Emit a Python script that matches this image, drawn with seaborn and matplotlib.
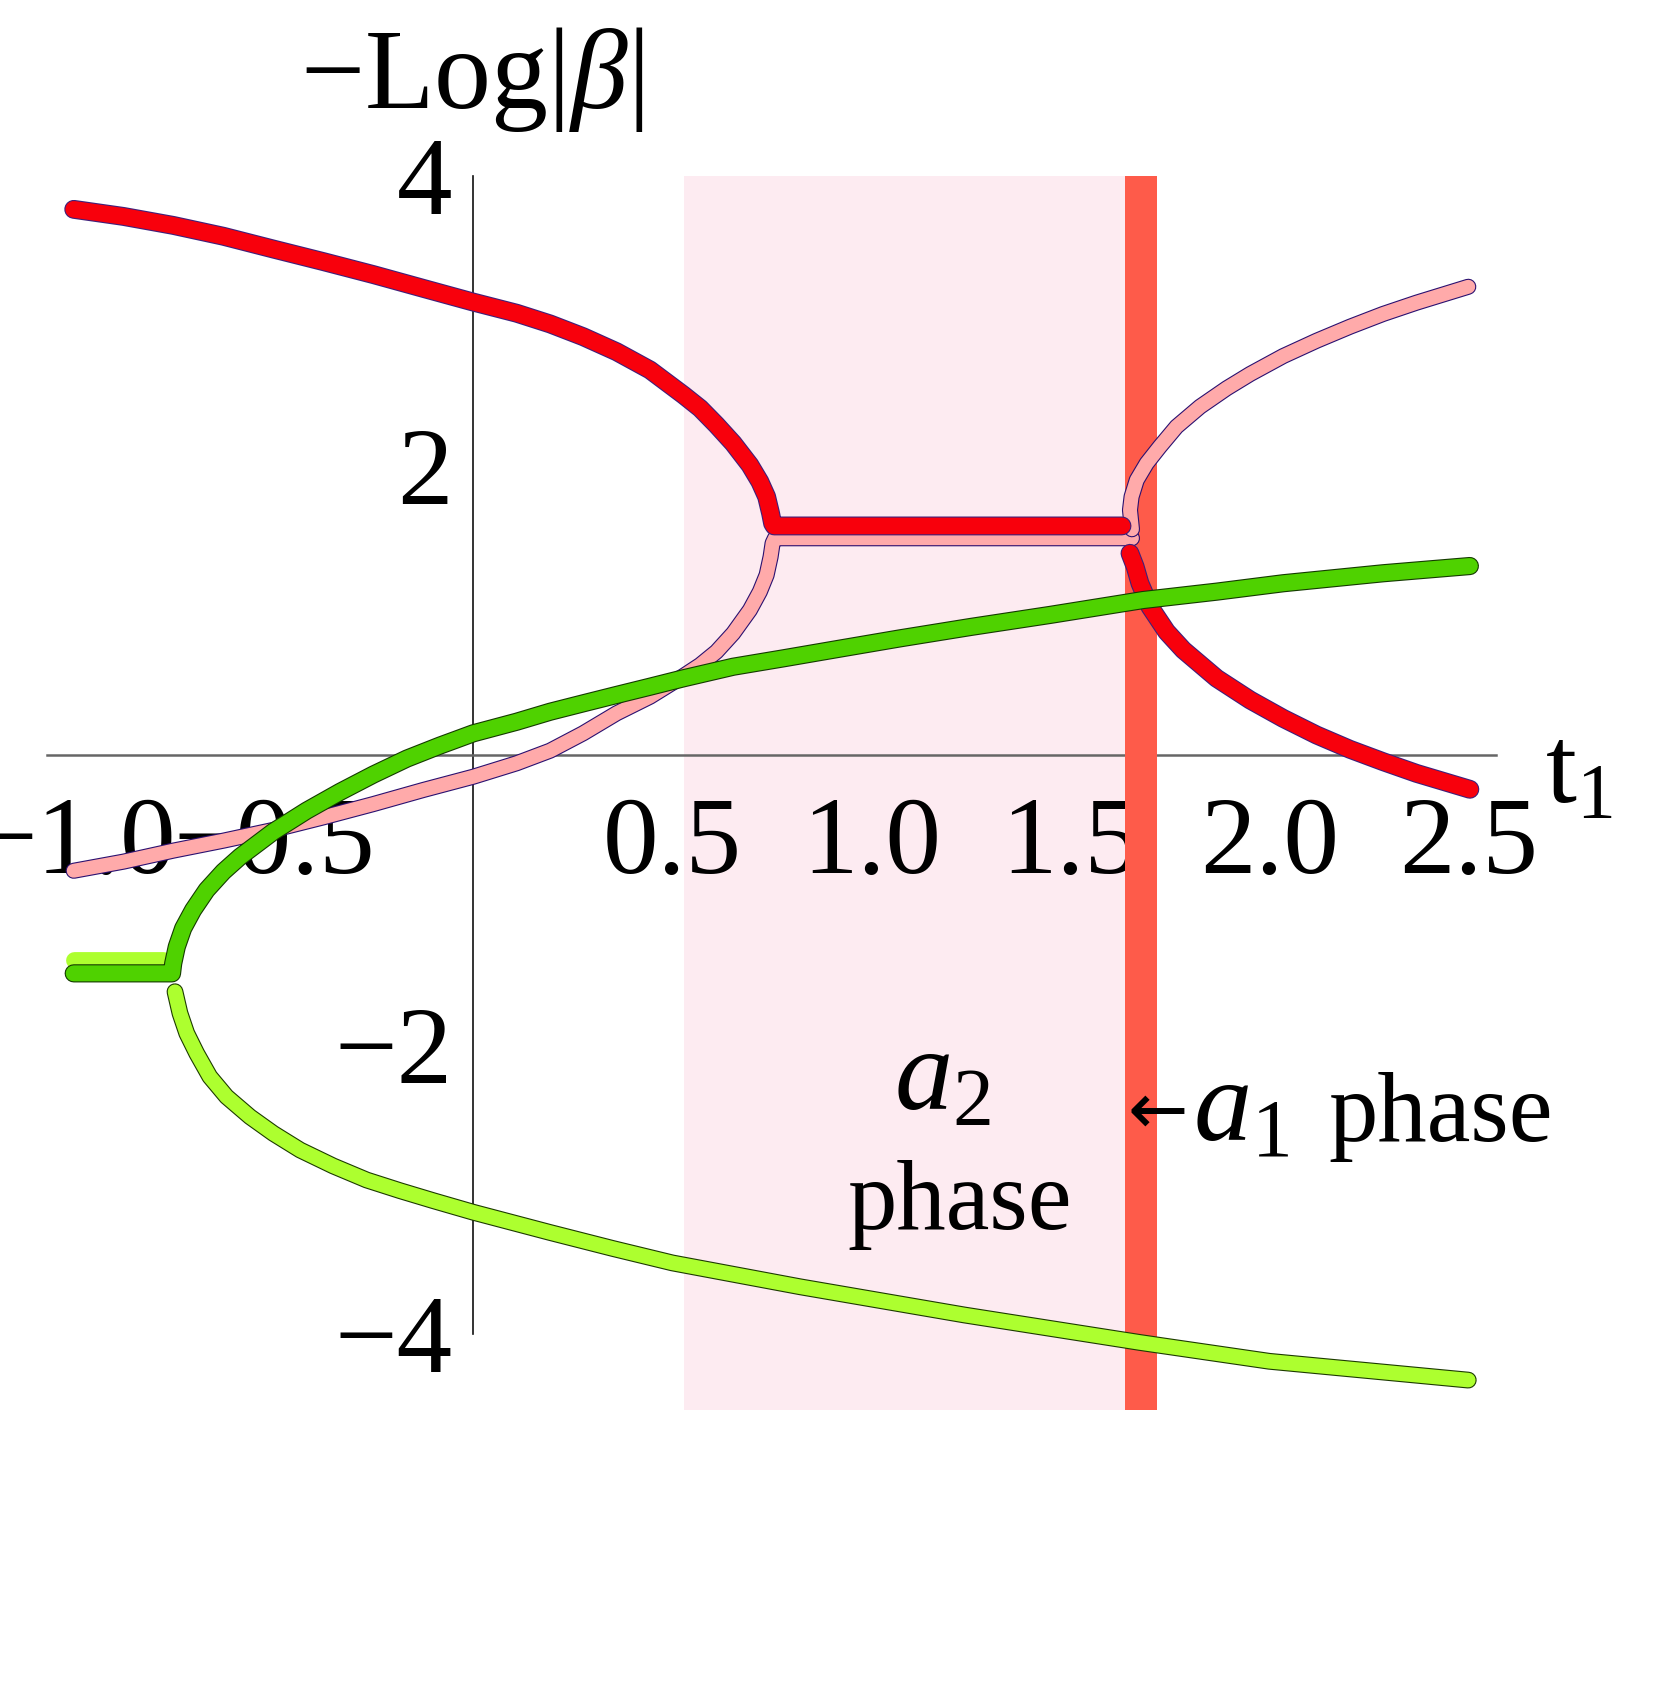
import matplotlib
matplotlib.use("Agg")
import matplotlib.pyplot as plt
import matplotlib.patheffects as pe
import seaborn as sns

# curve samples (t1, -Log|beta|)
red_top_t = [-1.004, -0.879, -0.754, -0.628, -0.503, -0.377, -0.251, -0.126, 0.0, 0.109, 0.193, 0.276,
             0.360, 0.444, 0.528, 0.570, 0.611, 0.653, 0.695, 0.720, 0.737, 0.747, 0.752, 0.756, 1.63]
red_top_v = [3.771, 3.722, 3.660, 3.585, 3.497, 3.410, 3.320, 3.225, 3.130, 3.053, 2.979, 2.891,
             2.787, 2.661, 2.488, 2.396, 2.281, 2.154, 2.004, 1.889, 1.785, 1.670, 1.601, 1.583, 1.583]

red_low_t = [1.650, 1.663, 1.675, 1.700, 1.742, 1.784, 1.868, 1.952, 2.035, 2.119, 2.203, 2.286, 2.370, 2.504]
red_low_v = [1.394, 1.301, 1.187, 1.025, 0.852, 0.726, 0.530, 0.380, 0.253, 0.138, 0.039, -0.046, -0.127, -0.237]

pink_low_t = [-1.004, -0.879, -0.754, -0.628, -0.503, -0.377, -0.251, -0.126, 0.0, 0.109, 0.193, 0.276,
              0.360, 0.444, 0.528, 0.570, 0.611, 0.653, 0.695, 0.720, 0.737, 0.747, 0.752, 0.758, 1.655]
pink_low_v = [-0.800, -0.737, -0.661, -0.592, -0.518, -0.431, -0.339, -0.242, -0.150, -0.057, 0.030, 0.150,
              0.288, 0.403, 0.546, 0.622, 0.714, 0.841, 1.002, 1.129, 1.244, 1.370, 1.463, 1.498, 1.498]

pink_up_t = [1.655, 1.650, 1.654, 1.667, 1.692, 1.725, 1.767, 1.826, 1.893, 1.952, 2.035, 2.119, 2.203,
             2.286, 2.370, 2.500]
pink_up_v = [1.56, 1.693, 1.785, 1.900, 2.016, 2.131, 2.269, 2.407, 2.534, 2.633, 2.757, 2.863, 2.960,
             3.048, 3.126, 3.236]

green_t = [-1.004, -0.757, -0.754, -0.745, -0.729, -0.704, -0.670, -0.628, -0.586, -0.5025, -0.419, -0.335,
           -0.251, -0.167, -0.084, 0.0, 0.109, 0.193, 0.276, 0.360, 0.444, 0.528, 0.653, 0.779, 0.925, 1.072,
           1.25, 1.449, 1.683, 1.868, 2.035, 2.286, 2.504]
green_v = [-1.509, -1.509, -1.44, -1.325, -1.198, -1.071, -0.933, -0.806, -0.703, -0.530, -0.385, -0.255,
           -0.135, -0.025, 0.065, 0.150, 0.230, 0.299, 0.357, 0.415, 0.472, 0.530, 0.610, 0.668, 0.737, 0.806,
           0.885, 0.968, 1.071, 1.129, 1.187, 1.256, 1.306]

lime_flat_t = [-1.004, -0.78]
lime_flat_v = [-1.42, -1.42]

lime_t = [-0.7495, -0.737, -0.720, -0.695, -0.662, -0.620, -0.561, -0.5025, -0.435, -0.352, -0.268, -0.184,
          -0.1005, 0.0, 0.193, 0.35, 0.5, 0.821, 1.234, 1.675, 2.0, 2.5]
lime_v = [-1.636, -1.785, -1.923, -2.062, -2.223, -2.361, -2.500, -2.615, -2.730, -2.840, -2.937, -3.011,
          -3.080, -3.160, -3.300, -3.41, -3.51, -3.675, -3.87, -4.06, -4.19, -4.32]

a2_region = [0.53, 1.637]
a1_band = [1.637, 1.718]

x_major = [-1.0, -0.5, 0.5, 1.0, 1.5, 2.0, 2.5]
x_labels = ["\u22121.0", "\u22120.5", "0.5", "1.0", "1.5", "2.0", "2.5"]
y_major = [-4, -2, 2, 4]
y_labels = ["\u22124", "\u22122", "2", "4"]

sns.set_style("white")
plt.rcParams["font.family"] = ["Liberation Serif", "DejaVu Serif"]
plt.rcParams["mathtext.fontset"] = "custom"
plt.rcParams["mathtext.rm"] = "Liberation Serif"
plt.rcParams["mathtext.it"] = "Liberation Serif:italic"
plt.rcParams["text.color"] = "black"
plt.rcParams["xtick.color"] = "black"
plt.rcParams["ytick.color"] = "black"

fig = plt.figure(figsize=(16.6, 17), dpi=100)
ax = fig.add_axes([0.02858, 0.1703, 0.87271, 0.72605])
ax.set_xlim(-1.07, 2.57)
ax.set_ylim(-4.53, 4.0)
ax.set_axisbelow(False)

ax.axvspan(a2_region[0], a2_region[1], color="#fdebf1", lw=0, zorder=1)
ax.axvspan(a1_band[0], a1_band[1], color="#fe5b4a", lw=0, zorder=2.8)


def curve(t, v, color, edge, lw, z):
    sns.lineplot(x=t, y=v, sort=False, estimator=None, color=color, lw=lw, ax=ax,
                 solid_capstyle="round", solid_joinstyle="round", zorder=z,
                 path_effects=[pe.Stroke(linewidth=lw + 1.6, foreground=edge), pe.Normal()])


curve(pink_low_t, pink_low_v, "#ffaaaa", "#2a1070", 10, 3)
curve(pink_up_t, pink_up_v, "#ffaaaa", "#2a1070", 10, 3)
curve(red_top_t, red_top_v, "#f8000c", "#40207a", 12, 3.2)
curve(red_low_t, red_low_v, "#f8000c", "#40207a", 12, 3.2)
curve(lime_flat_t, lime_flat_v, "#adff2f", "#adff2f", 10.5, 3.1)
curve(lime_t, lime_v, "#adff2f", "#1c3a00", 10.5, 3.1)
curve(green_t, green_v, "#4fd200", "#143a00", 11.5, 3.3)

for s in ["top", "right"]:
    ax.spines[s].set_visible(False)
ax.spines["left"].set_position(("data", 0))
ax.spines["bottom"].set_position(("data", 0))
ax.spines["left"].set_bounds(-4, 4)
ax.spines["left"].set_color("#111111")
ax.spines["left"].set_linewidth(1.2)
ax.spines["bottom"].set_color("#666666")
ax.spines["bottom"].set_linewidth(1.8)

ax.set_xticks(x_major)
ax.set_xticklabels(x_labels)
ax.set_xticks([round(-1.0 + 0.1 * i, 1) for i in range(36) if i % 5 != 0 and i != 10], minor=True)
ax.set_yticks(y_major)
ax.set_yticklabels(y_labels)
ax.set_yticks([-3.5, -3, -2.5, -1.5, -1, -0.5, 0.5, 1, 1.5, 2.5, 3, 3.5], minor=True)

ax.tick_params(axis="x", which="major", direction="in", length=14, width=1.0, color="#333333",
               pad=30, labelsize=80)
ax.tick_params(axis="x", which="minor", direction="in", length=8.5, width=1.0, color="#333333")
ax.tick_params(axis="y", which="major", direction="in", length=12, width=1.0, color="#333333",
               pad=15, labelsize=80)
ax.tick_params(axis="y", which="minor", direction="in", length=8.5, width=1.0, color="#333333")
ax.grid(False)

fig.text(0.2843, 0.9365, r"$-\mathrm{Log}|\beta|$", fontsize=82, ha="center", va="baseline")
fig.text(0.9307, 0.527, r"$\mathrm{t}_1$", fontsize=80, ha="left", va="baseline")

# phase annotations
fig.text(0.5675, 0.347, r"$a_2$", fontsize=84, ha="center", va="baseline")
fig.text(0.578, 0.277, "phase", fontsize=71, ha="center", va="baseline")
fig.text(0.6795, 0.3447, "\u2190", fontsize=52, family="DejaVu Sans", ha="left", va="center")
fig.text(0.7185, 0.3288, r"$a_1$", fontsize=84, ha="left", va="baseline")
fig.text(0.80, 0.3288, "phase", fontsize=71, ha="left", va="baseline")

fig.savefig("out.png", dpi=100)
